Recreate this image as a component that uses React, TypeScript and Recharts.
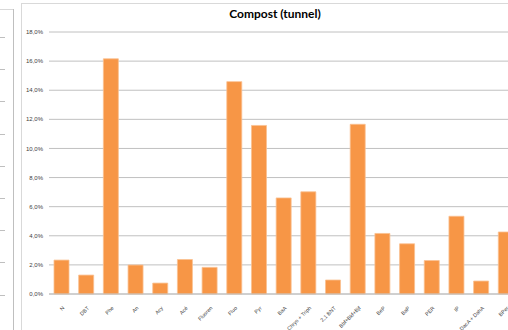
import React from "react";
import { BarChart, Bar, XAxis, YAxis, CartesianGrid } from "recharts";

const categories = [
  "N", "DBT", "Phe", "An", "Acy", "Acé", "Fluoren", "Fluo", "Pyr", "BaA",
  "Chrys + Triph", "2,1 BNT", "Bbf+Bkf+Bjf", "BeP", "BaP", "PER", "IP",
  "DacA + DahA", "BPer",
];
const values = [
  0.0233, 0.013, 0.1616, 0.0199, 0.0075, 0.0237, 0.0183, 0.1459, 0.1158, 0.066,
  0.0702, 0.0096, 0.1166, 0.0416, 0.0345, 0.023, 0.0534, 0.0089, 0.0426,
];
const yTicks = [0, 0.02, 0.04, 0.06, 0.08, 0.1, 0.12, 0.14, 0.16, 0.18];
const title = "Compost (tunnel)";

const data = categories.map((c, i) => ({ name: c, v: values[i] }));

const fmt = (v: number) => (v * 100).toFixed(1).replace(".", ",") + "%";

const XTick = (props: any) => {
  const { x, y, payload } = props;
  return (
    <g transform={`translate(${x + 2},${y + 5})`}>
      <text
        x={0}
        y={0}
        dy={2}
        textAnchor="end"
        transform="rotate(-45)"
        fontSize={5.3}
        fill="#404040"
        fontFamily="Liberation Sans, Arial, sans-serif"
      >
        {payload.value}
      </text>
    </g>
  );
};

export default function App() {
  const leftTicks = [0, 1, 2, 3, 4, 5, 6, 7, 8];
  return (
    <div
      style={{
        position: "fixed",
        left: 0,
        top: 0,
        width: 508,
        height: 330,
        overflow: "hidden",
        background: "#ffffff",
      }}
    >
      {/* neighbouring chart edge */}
      <div style={{ position: "absolute", left: 13, top: 9, width: 1, height: 330, background: "#bfbfbf" }} />
      <div style={{ position: "absolute", left: 0, top: 9, width: 13, height: 1, background: "#d9d9d9" }} />
      {leftTicks.map((i) => (
        <div
          key={i}
          style={{ position: "absolute", left: 0, top: 37 + i * 32.2, width: 5, height: 1, background: "#bfbfbf" }}
        />
      ))}
      {/* main chart frame */}
      <div
        style={{
          position: "absolute",
          left: 21,
          top: 3,
          width: 560,
          height: 400,
          borderLeft: "1px solid #d9d9d9",
          borderTop: "1px solid #d9d9d9",
        }}
      />
      <div
        style={{
          position: "absolute",
          left: 21,
          top: 6,
          width: 508,
          textAlign: "center",
          fontFamily: "Lato, 'Open Sans', sans-serif",
          fontWeight: 700,
          fontSize: 12,
          color: "#000",
        }}
      >
        {title}
      </div>
      <div style={{ position: "absolute", left: 21, top: 0 }}>
        <BarChart
          width={520}
          height={330}
          data={data}
          margin={{ top: 32, right: 23, bottom: 0, left: 0 }}
        >
          <CartesianGrid vertical={false} stroke="#c0c0c0" strokeWidth={1} />
          <XAxis
            dataKey="name"
            interval={0}
            height={36}
            tick={<XTick />}
            tickLine={false}
            axisLine={{ stroke: "#c0c0c0" }}
          />
          <YAxis
            width={28}
            domain={[0, 0.18]}
            ticks={yTicks}
            tickFormatter={fmt}
            tickSize={0}
            tickMargin={6}
            axisLine={false}
            tickLine={false}
            tick={{ fontSize: 6, fill: "#404040", fontFamily: "Liberation Sans, Arial, sans-serif" }}
          />
          <Bar
            dataKey="v"
            fill="#F79646"
            stroke="#FAC090"
            strokeWidth={0.8}
            barSize={15}
            isAnimationActive={false}
          />
        </BarChart>
      </div>
    </div>
  );
}
